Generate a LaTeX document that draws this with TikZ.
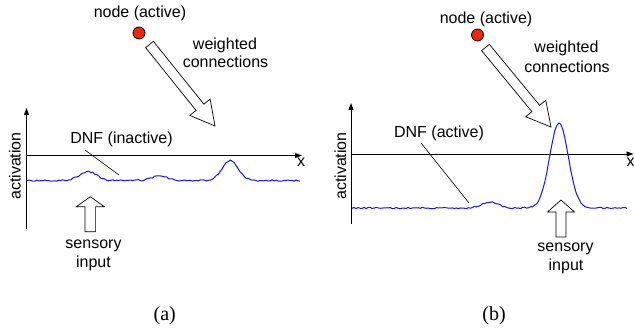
\documentclass[tikz,border=0pt]{standalone}
\usepackage{fontspec}
\setmainfont{Liberation Sans}
\newfontfamily\capfont{Liberation Serif}
\usetikzlibrary{calc,arrows.meta}
\definecolor{nodered}{RGB}{232,40,16}
\definecolor{dnfblue}{RGB}{20,20,240}
\newcommand\hollowarrow[5]{% tail, tip, shaft half width, head half width, head length
  \path ($(#2)!#5!(#1)$) coordinate (neck);
  \draw[hollow] ($(#1)!#3!90:(#2)$) -- ($(neck)!#3!90:(#2)$) -- ($(neck)!#4!90:(#2)$)
    -- (#2) -- ($(neck)!#4!-90:(#2)$) -- ($(neck)!#3!-90:(#2)$) -- ($(#1)!#3!-90:(#2)$) -- cycle;
}
\tikzset{
  lbl/.style={font=\fontsize{16}{18}\selectfont, inner sep=0pt, anchor=base},
  captext/.style={font=\capfont\fontsize{20}{22}\selectfont, inner sep=0pt, anchor=base},
  axis/.style={line width=0.9pt, -{Triangle[length=7pt,width=5pt]}},
  dnf/.style={dnfblue, line width=1pt, line join=round},
  leader/.style={line width=0.6pt},
  unit/.style={circle, draw=black, fill=nodered, minimum size=12pt, inner sep=0pt, line width=0.8pt},
  hollow/.style={draw=black, fill=white, line width=0.7pt, line join=miter},
  declare function={gs(\q,\m,\s)=exp(-min(((\q-\m)/\s)^2/2,20));},
}
\begin{document}
\begin{tikzpicture}[x=1pt,y=-1pt]
\useasboundingbox (0,0) rectangle (634,331);
\pgfmathsetseed{7}
% ---------------- panel (a) ----------------
\node[lbl] (nodeA) at (140,17.5) {node (active)};
\node[unit] (circA) at (139,33) {};
\node[lbl] (wA1) at (225,49.5) {weighted};
\node[lbl] (wA2) at (225.5,68) {connections};
\coordinate (tailA) at (149.5,44.5);
\coordinate (tipA) at (215,126);
\hollowarrow{tailA}{tipA}{5pt}{13pt}{24pt}
\coordinate (yA0) at (26.5,229);
\coordinate (yA1) at (26.5,108);
\coordinate (xA0) at (26.5,155.5);
\coordinate (xA1) at (302,155.5);
\draw[axis] (yA0) -- (yA1);
\draw[axis] (xA0) -- (xA1);
\node[lbl] (xlabA) at (301,167) {x};
\node[lbl, rotate=90] (actA) at (20.7,166) {activation};
\draw[dnf] plot[domain=27:300, samples=138, variable=\x]
  (\x, {180.5 - 9*gs(\x,88,8.5) - 4.5*gs(\x,160,8) - 20*gs(\x,230,8) + 0.75*rand});
\node[lbl] (dnfA) at (121.5,144) {DNF (inactive)};
\coordinate (ldA0) at (85,150);
\coordinate (ldA1) at (119,175);
\draw[leader] (ldA0) -- (ldA1);
\coordinate (sA0) at (90.3,231.7);
\coordinate (sA1) at (90.3,196.7);
\hollowarrow{sA0}{sA1}{5.3pt}{14pt}{10pt}
\node[lbl] (sensA) at (93.5,248) {sensory};
\node[lbl] (inpA) at (93.5,267) {input};
\node[captext] (capA) at (164.7,320) {(a)};
% ---------------- panel (b) ----------------
\node[lbl] (nodeB) at (486,24) {node (active)};
\node[unit] (circB) at (477.5,35) {};
\node[lbl] (wB1) at (566.5,53) {weighted};
\node[lbl] (wB2) at (567,73) {connections};
\coordinate (tailB) at (485.5,47.5);
\coordinate (tipB) at (551,127);
\hollowarrow{tailB}{tipB}{5pt}{13pt}{24pt}
\coordinate (yB0) at (351,224);
\coordinate (yB1) at (351,103);
\coordinate (xB0) at (351,154);
\coordinate (xB1) at (633.5,154);
\draw[axis] (yB0) -- (yB1);
\draw[axis] (xB0) -- (xB1);
\node[lbl] (xlabB) at (630.5,167) {x};
\node[lbl, rotate=90] (actB) at (346,166) {activation};
\draw[dnf] plot[domain=352:627, samples=138, variable=\x]
  (\x, {208 - 6*gs(\x,490,8) - 85*gs(\x,559,9.3) + 0.75*rand});
\node[lbl] (dnfB) at (439,138) {DNF (active)};
\coordinate (ldB0) at (421,143);
\coordinate (ldB1) at (469,203);
\draw[leader] (ldB0) -- (ldB1);
\coordinate (sB0) at (561,237);
\coordinate (sB1) at (561,200);
\hollowarrow{sB0}{sB1}{5pt}{13.5pt}{12pt}
\node[lbl] (sensB) at (565.5,251) {sensory};
\node[lbl] (inpB) at (566,270) {input};
\node[captext] (capB) at (494,320) {(b)};
\end{tikzpicture}
\end{document}
